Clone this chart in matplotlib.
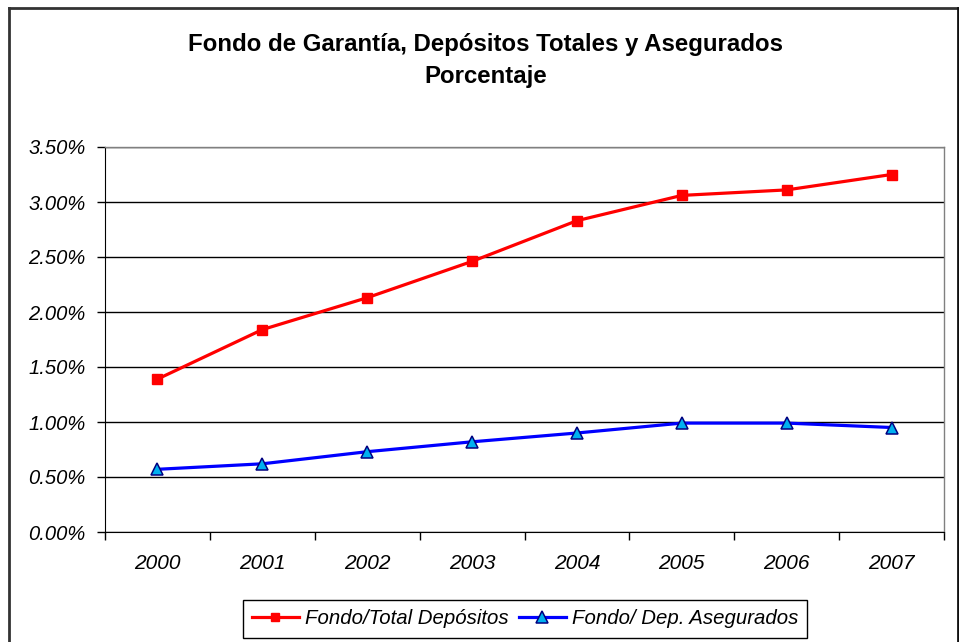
import matplotlib
matplotlib.use("Agg")
import matplotlib.pyplot as plt
from matplotlib.ticker import FuncFormatter, FixedLocator
from matplotlib.lines import Line2D

plt.rcParams['font.family'] = ['Liberation Sans', 'DejaVu Sans']

years = ["2000", "2001", "2002", "2003", "2004", "2005", "2006", "2007"]
fondo_total = [1.39, 1.84, 2.13, 2.46, 2.83, 3.06, 3.11, 3.25]
fondo_asegurados = [0.57, 0.62, 0.73, 0.82, 0.90, 0.99, 0.99, 0.95]
y_ticks = [0.0, 0.5, 1.0, 1.5, 2.0, 2.5, 3.0, 3.5]
title_lines = ["Fondo de Garantía, Depósitos Totales y Asegurados", "Porcentaje"]
labels = ["Fondo/Total Depósitos", "Fondo/ Dep. Asegurados"]

W, H = 959, 642
fig = plt.figure(figsize=(W / 100, H / 100), dpi=100)

# outer chart border (bottom edge lies outside the image)
fig.add_artist(Line2D([8.5 / W, 8.5 / W], [0, 1 - 7.5 / H], transform=fig.transFigure,
                      color='#333333', lw=2))
fig.add_artist(Line2D([8.5 / W, 957.5 / W], [1 - 7.5 / H, 1 - 7.5 / H], transform=fig.transFigure,
                      color='#333333', lw=2))
fig.add_artist(Line2D([957.5 / W, 957.5 / W], [0, 1 - 7.5 / H], transform=fig.transFigure,
                      color='#111111', lw=2))

left, right, top, bottom = 105, 944, 147, 532
ax = fig.add_axes([left / W, 1 - bottom / H, (right - left) / W, (bottom - top) / H])

x = list(range(len(years)))
ax.plot(x, fondo_total, color='#ff0000', lw=2.3, marker='s', markersize=7,
        markerfacecolor='#ff0000', markeredgecolor='#ff0000', label=labels[0], zorder=3)
ax.plot(x, fondo_asegurados, color='#0000ff', lw=2.3, marker='^', markersize=9,
        markerfacecolor='#00b0f0', markeredgecolor='#000080', markeredgewidth=1.1,
        label=labels[1], zorder=3)

ax.set_xlim(-0.5, len(years) - 0.5)
ax.set_ylim(0, 3.5)
ax.yaxis.set_major_locator(FixedLocator(y_ticks))
ax.yaxis.set_major_formatter(FuncFormatter(lambda v, p: f"{v:.2f}%"))
ax.grid(axis='y', color='black', lw=1)
ax.set_axisbelow(True)

# x ticks at category boundaries, labels centered
ax.set_xticks([i - 0.5 for i in range(len(years) + 1)])
ax.set_xticklabels([])
ax.set_xticks(x, minor=True)
ax.set_xticklabels(years, minor=True)
ax.tick_params(axis='x', which='major', direction='out', length=6, width=1, color='black')
ax.tick_params(axis='x', which='minor', length=0, pad=16, labelsize=15)
ax.tick_params(axis='y', direction='out', length=6, width=1, color='black', pad=8, labelsize=14.5)
for lab in ax.get_xticklabels(minor=True) + ax.get_yticklabels():
    lab.set_fontstyle('italic')

for s in ['top', 'right']:
    ax.spines[s].set_color('#808080')
    ax.spines[s].set_linewidth(1)
ax.spines['left'].set_color('black')
ax.spines['bottom'].set_color('black')

cx = 0.5 * (188 + 783) / W
fig.text(cx, 1 - 44 / H, title_lines[0], ha='center', va='center',
         fontsize=17.3, fontweight='bold')
fig.text(cx, 1 - 77 / H, title_lines[1], ha='center', va='center',
         fontsize=17.3, fontweight='bold')

leg = fig.legend(loc='center', bbox_to_anchor=(525 / W, 1 - 619 / H), ncol=2,
                 frameon=True, fancybox=False, edgecolor='black', framealpha=1,
                 prop={'size': 14.7, 'style': 'italic'}, handlelength=2.3,
                 handletextpad=0.3, columnspacing=0.5, borderpad=0.45, markerscale=0.9)
leg.get_frame().set_linewidth(1)

fig.savefig("out.png", dpi=100)
